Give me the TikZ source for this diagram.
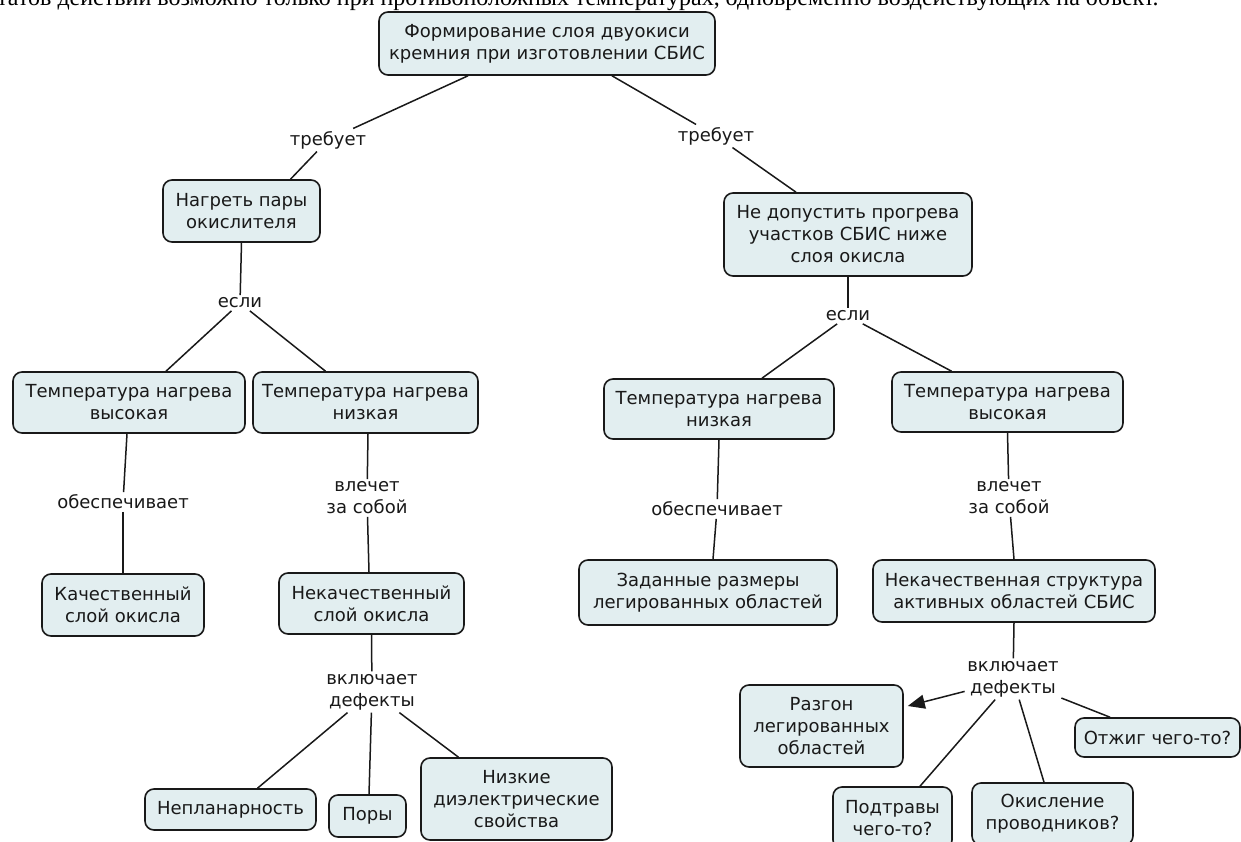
\documentclass[tikz,border=0pt]{standalone}
\usepackage{fontspec}
\setmainfont{DejaVu Sans}
\newfontfamily\serifcut{Liberation Serif}
\usetikzlibrary{calc,arrows.meta}
\definecolor{boxfill}{RGB}{226,238,240}
\definecolor{ink}{RGB}{25,25,25}
\begin{document}
\begin{tikzpicture}[x=1pt,y=-1pt,
  concept/.style={draw=ink, line width=1.6pt, fill=boxfill, rounded corners=9pt,
    align=center, inner sep=0pt, font=\fontsize{18}{22}\selectfont, text=ink},
  linklabel/.style={align=center, inner sep=2.5pt, font=\fontsize{18}{22}\selectfont, text=ink},
  conn/.style={draw=ink, line width=1.5pt},
  cutline/.style={anchor=base west, inner sep=0pt, font=\serifcut\fontsize{24}{28}\selectfont, text=black}
]
\useasboundingbox (0,0) rectangle (1241,842);
\fill[white] (0,0) rectangle (1241,842);
\clip (0,0) rectangle (1241,842);

% clipped sentence at the top edge
\node[cutline] (cuttext) at (-3,6) {татов действий возможно только при противоположных температурах, одновременно воздействующих на объект.};

% concepts
\node[concept, minimum width=336pt, minimum height=63pt] (top) at (547,43.5) {Формирование слоя двуокиси\\кремния при изготовлении СБИС};
\node[concept, minimum width=157pt, minimum height=62pt] (heat) at (241.5,211) {Нагреть пары\\окислителя};
\node[concept, minimum width=232pt, minimum height=61pt] (lhigh) at (129,402.5) {Температура нагрева\\высокая};
\node[concept, minimum width=225pt, minimum height=61pt] (llow) at (365.5,402.5) {Температура нагрева\\низкая};
\node[concept, minimum width=162pt, minimum height=62pt] (lgood) at (123,605) {Качественный\\слой окисла};
\node[concept, minimum width=185pt, minimum height=61pt] (lbad) at (371.5,603.5) {Некачественный\\слой окисла};
\node[concept, minimum width=171pt, minimum height=41pt] (nepl) at (230.5,809.5) {Непланарность};
\node[concept, minimum width=77pt, minimum height=42pt] (pory) at (367.5,816) {Поры};
\node[concept, minimum width=191pt, minimum height=82pt] (nizk) at (516.5,799) {Низкие\\диэлектрические\\свойства};

\node[concept, minimum width=248pt, minimum height=83pt] (rnot) at (848,234.5) {Не допустить прогрева\\участков СБИС ниже\\слоя окисла};
\node[concept, minimum width=230pt, minimum height=60pt] (rlow) at (719,409) {Температура нагрева\\низкая};
\node[concept, minimum width=231pt, minimum height=60pt] (rhigh) at (1007.5,402) {Температура нагрева\\высокая};
\node[concept, minimum width=258pt, minimum height=65pt] (rset) at (708,592.5) {Заданные размеры\\легированных областей};
\node[concept, minimum width=282pt, minimum height=62pt] (rbad) at (1014,591) {Некачественная структура\\активных областей СБИС};
\node[concept, minimum width=163pt, minimum height=82pt] (razg) at (821.5,726) {Разгон\\легированных\\областей};
\node[concept, minimum width=119pt, minimum height=62pt] (podt) at (892.5,818) {Подтравы\\чего-то?};
\node[concept, minimum width=161pt, minimum height=62pt] (okis) at (1052.5,814) {Окисление\\проводников?};
\node[concept, minimum width=165pt, minimum height=39pt] (otzh) at (1157.5,737.5) {Отжиг чего-то?};

% link labels
\node[linklabel] (treb1) at (328,140) {требует};
\node[linklabel] (treb2) at (716,136) {требует};
\node[linklabel] (esli1) at (240,303) {если};
\node[linklabel] (esli2) at (848,316) {если};
\node[linklabel] (obesp1) at (123,502) {обеспечивает};
\node[linklabel] (vlech1) at (367,498) {влечет\\за собой};
\node[linklabel] (vkl1) at (372,692) {включает\\дефекты};
\node[linklabel] (obesp2) at (717,509) {обеспечивает};
\node[linklabel] (vlech2) at (1009,498) {влечет\\за собой};
\node[linklabel] (vkl2) at (1013,679) {включает\\дефекты};

% connectors, left branch
\draw[conn] ($(top.south)+(-79,0)$) -- (treb1);
\draw[conn] (treb1) -- ($(heat.north)+(49,0)$);
\draw[conn] (heat.south) -- (esli1);
\draw[conn] (esli1) -- ($(lhigh.north)+(37,0)$);
\draw[conn] (esli1) -- ($(llow.north)+(-40,0)$);
\draw[conn] ($(lhigh.south)+(-2,0)$) -- (obesp1);
\draw[conn] (obesp1) -- (lgood.north);
\draw[conn] ($(llow.south)+(2.5,0)$) -- (vlech1);
\draw[conn] (vlech1) -- ($(lbad.north)+(-2.5,0)$);
\draw[conn] (lbad.south) -- (vkl1);
\draw[conn] (vkl1) -- ($(nepl.north)+(27,0)$);
\draw[conn] (vkl1) -- ($(pory.north)+(1.5,0)$);
\draw[conn] (vkl1) -- ($(nizk.north)+(-58,0)$);

% connectors, right branch
\draw[conn] ($(top.south)+(65,0)$) -- (treb2);
\draw[conn] (treb2) -- ($(rnot.north)+(-52,0)$);
\draw[conn] (rnot.south) -- (esli2);
\draw[conn] (esli2) -- ($(rlow.north)+(43,0)$);
\draw[conn] (esli2) -- ($(rhigh.north)+(-56,0)$);
\draw[conn] (rlow.south) -- (obesp2);
\draw[conn] (obesp2) -- ($(rset.north)+(5,0)$);
\draw[conn] (rhigh.south) -- (vlech2);
\draw[conn] (vlech2) -- (rbad.north);
\draw[conn] (rbad.south) -- (vkl2);
\draw[conn, -{Triangle[length=17pt,width=14pt]}] (vkl2) -- ($(razg.east)+(4,-20)$);
\draw[conn] (vkl2) -- ($(podt.north)+(27.5,0)$);
\draw[conn] (vkl2) -- ($(okis.north)+(-8.5,0)$);
\draw[conn] (vkl2) -- ($(otzh.north)+(-47.5,0)$);
\end{tikzpicture}
\end{document}
